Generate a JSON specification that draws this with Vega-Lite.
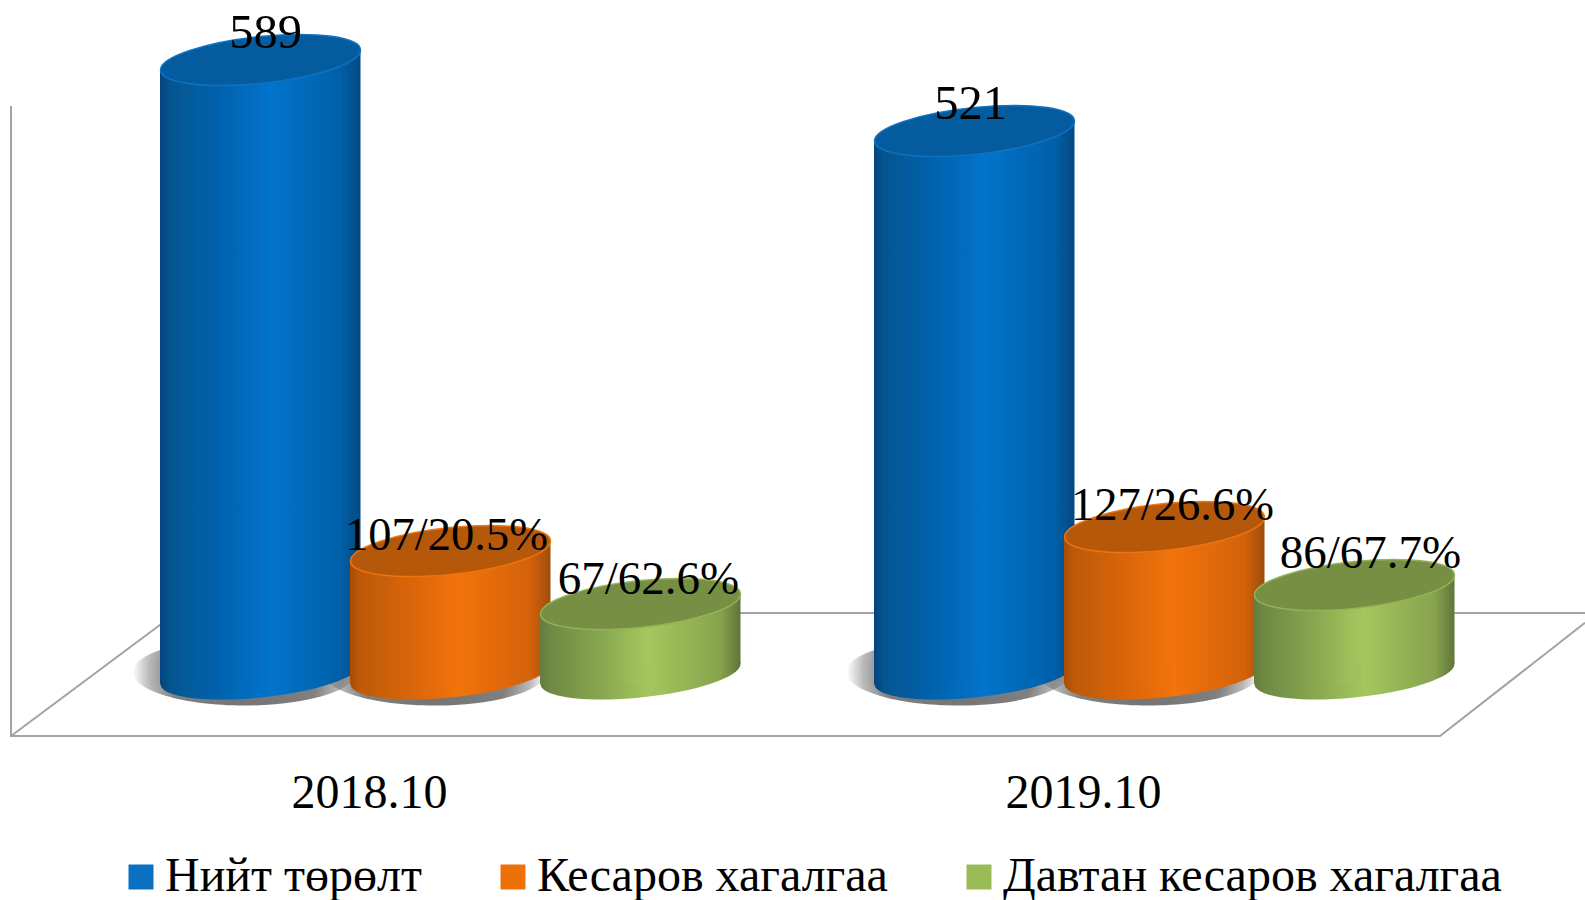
{
"$schema":"https://vega.github.io/schema/vega-lite/v6.json",
"width":1585,"height":900,"padding":0,"autosize":{"type":"none"},"background":"white",
"config":{"view":{"stroke":null},"font":"Liberation Serif"},
"datasets":{
"bars":[
{"year":"2018.10","series":"Нийт төрөлт","value":589,"label":"589"},
{"year":"2018.10","series":"Кесаров хагалгаа","value":107,"label":"107/20.5%"},
{"year":"2018.10","series":"Давтан кесаров хагалгаа","value":67,"label":"67/62.6%"},
{"year":"2019.10","series":"Нийт төрөлт","value":521,"label":"521"},
{"year":"2019.10","series":"Кесаров хагалгаа","value":127,"label":"127/26.6%"},
{"year":"2019.10","series":"Давтан кесаров хагалгаа","value":86,"label":"86/67.7%"}],
"frame":[
{"edge":"wall","across":0.694,"up":11.78,"step":1},
{"edge":"wall","across":0.694,"up":81.78,"step":2},
{"edge":"wall","across":90.85,"up":81.78,"step":3},
{"edge":"wall","across":100,"up":69.2,"step":4},
{"edge":"back","across":0.694,"up":81.78,"step":1},
{"edge":"back","across":11.1,"up":68.1,"step":2},
{"edge":"back","across":100,"up":68.1,"step":3}]
},
"layer":[
{"data":{"name":"frame"},"mark":{"type":"line","color":"#a3a3a3","strokeWidth":2,"clip":false},
"encoding":{"x":{"field":"across","type":"quantitative","scale":{"domain":[0,100],"range":[0,1585]},"axis":null},
"y":{"field":"up","type":"quantitative","scale":{"domain":[0,100],"range":[0,900]},"axis":null},
"detail":{"field":"edge"},"order":{"field":"step"}}},
{"data":{"name":"bars"},
"encoding":{
"x":{"field":"year","type":"nominal","scale":{"domain":["2018.10","2019.10"],"range":[93.5,1521.5],"paddingInner":0,"paddingOuter":0},
"axis":{"orient":"bottom","offset":-107,"title":null,"domain":false,"ticks":false,"grid":false,"labelAngle":0,"labelOffset":-81,"labelFont":"Liberation Serif","labelFontSize":48,"labelColor":"#000000","labelBaseline":"middle","labelPadding":0}},
"y":{"field":"value","type":"quantitative","scale":{"domain":[0,67,86,107,127,521,589],"range":[674,604,585,551,527,131,60]},"axis":null}
},
"layer":[
{"mark":{"type":"point","opacity":0,"size":0,"filled":true},
"encoding":{"fill":{"field":"series","type":"nominal","scale":{"domain":["Нийт төрөлт","Кесаров хагалгаа","Давтан кесаров хагалгаа"],"range":["#0a70c2","#ed7109","#9bbb59"]},
"legend":{"orient":"none","legendX":117,"legendY":853,"direction":"horizontal","columns":3,"title":null,"symbolType":"square","symbolSize":625,"symbolOpacity":1,"symbolStrokeWidth":0,"labelFont":"Liberation Serif","labelFontSize":48,"labelColor":"#000000","labelOffset":0,"columnPadding":67,"gridAlign":"each","labelLimit":800,"symbolOffset":0,"padding":0}}}},
{"transform":[{"filter":"datum.series==='Нийт төрөлт'"}],
"mark":{"type":"point","filled":true,"opacity":1,"size":50000,"xOffset":-206,"yOffset":-2,"shape":"M1,0 C1,.166 .552,.3 0,.3 C-.552,.3 -1,.166 -1,0 C-1,-.166 -.552,-.3 0,-.3 C.552,-.3 1,-.166 1,0 Z",
"fill":{"gradient":"radial","x1":0.5,"y1":0.5,"r1":0,"x2":0.5,"y2":0.5,"r2":0.5,"stops":[{"offset":0,"color":"rgba(50,50,50,0.7)"},{"offset":0.65,"color":"rgba(50,50,50,0.62)"},{"offset":0.85,"color":"rgba(50,50,50,0.35)"},{"offset":1,"color":"rgba(50,50,50,0)"}]}},
"encoding":{"y":{"datum":0}}},
{"transform":[{"filter":"datum.series==='Кесаров хагалгаа'"}],
"mark":{"type":"point","filled":true,"opacity":1,"size":50000,"xOffset":-16,"yOffset":-2,"shape":"M1,0 C1,.166 .552,.3 0,.3 C-.552,.3 -1,.166 -1,0 C-1,-.166 -.552,-.3 0,-.3 C.552,-.3 1,-.166 1,0 Z",
"fill":{"gradient":"radial","x1":0.5,"y1":0.5,"r1":0,"x2":0.5,"y2":0.5,"r2":0.5,"stops":[{"offset":0,"color":"rgba(50,50,50,0.7)"},{"offset":0.65,"color":"rgba(50,50,50,0.62)"},{"offset":0.85,"color":"rgba(50,50,50,0.35)"},{"offset":1,"color":"rgba(50,50,50,0)"}]}},
"encoding":{"y":{"datum":0}}},

{"transform":[{"filter":"datum.series==='Нийт төрөлт'"}],"mark":{"type":"point","filled":true,"opacity":1,"size":40000,"xOffset":-190,"shape":"M1,-0.1 C1,0.0298 .5523,.1798 0,.235 C-.5523,.2902 -1,.2298 -1,.1 C-1,-0.0298 -.5523,-.1798 0,-.235 C.5523,-.2902 1,-.2298 1,-.1 Z",
"fill":{"gradient":"linear","x1":0,"y1":0,"x2":1,"y2":0,"stops":[{"offset":0,"color":"#04437e"},{"offset":0.05,"color":"#05558f"},{"offset":0.3,"color":"#0063ae"},{"offset":0.55,"color":"#0274cc"},{"offset":0.9,"color":"#0060a8"},{"offset":1,"color":"#04487f"}]}},"encoding":{"y":{"datum":0}}},
{"transform":[{"filter":"datum.series==='Нийт төрөлт'"}],"mark":{"type":"bar","width":101,"xOffset":-240,"yOffset":10,"y2Offset":10,
"fill":{"gradient":"linear","x1":0,"y1":0,"x2":1,"y2":0,"stops":[{"offset":0,"color":"#04437e"},{"offset":0.1,"color":"#05558f"},{"offset":0.6,"color":"#0063ae"},{"offset":1,"color":"#0270c6"}]}},"encoding":{"y2":{"datum":0}}},
{"transform":[{"filter":"datum.series==='Нийт төрөлт'"}],"mark":{"type":"bar","width":100,"xOffset":-140,"yOffset":-10,"y2Offset":-10,
"fill":{"gradient":"linear","x1":0,"y1":0,"x2":1,"y2":0,"stops":[{"offset":0,"color":"#0270c6"},{"offset":0.1,"color":"#0274cc"},{"offset":0.8,"color":"#0060a8"},{"offset":1,"color":"#04487f"}]}},"encoding":{"y2":{"datum":0}}},
{"transform":[{"filter":"datum.series==='Нийт төрөлт'"}],"mark":{"type":"point","filled":true,"opacity":1,"size":40000,"xOffset":-190,"fill":"#045c9f","stroke":"#0f72c2","strokeWidth":1.5,"shape":"M1,-0.1 C1,0.0298 .5523,.1798 0,.235 C-.5523,.2902 -1,.2298 -1,.1 C-1,-0.0298 -.5523,-.1798 0,-.235 C.5523,-.2902 1,-.2298 1,-.1 Z"}},

{"transform":[{"filter":"datum.series==='Кесаров хагалгаа'"}],"mark":{"type":"point","filled":true,"opacity":1,"size":40000,"shape":"M1,-0.1 C1,0.0298 .5523,.1798 0,.235 C-.5523,.2902 -1,.2298 -1,.1 C-1,-0.0298 -.5523,-.1798 0,-.235 C.5523,-.2902 1,-.2298 1,-.1 Z",
"fill":{"gradient":"linear","x1":0,"y1":0,"x2":1,"y2":0,"stops":[{"offset":0,"color":"#a64d05"},{"offset":0.05,"color":"#bd5a08"},{"offset":0.3,"color":"#d9650a"},{"offset":0.55,"color":"#f2730b"},{"offset":0.9,"color":"#d4620a"},{"offset":1,"color":"#9d4d0a"}]}},"encoding":{"y":{"datum":0}}},
{"transform":[{"filter":"datum.series==='Кесаров хагалгаа'"}],"mark":{"type":"bar","width":101,"xOffset":-50,"yOffset":10,"y2Offset":10,
"fill":{"gradient":"linear","x1":0,"y1":0,"x2":1,"y2":0,"stops":[{"offset":0,"color":"#a64d05"},{"offset":0.1,"color":"#bd5a08"},{"offset":0.6,"color":"#d9650a"},{"offset":1,"color":"#ef720b"}]}},"encoding":{"y2":{"datum":0}}},
{"transform":[{"filter":"datum.series==='Кесаров хагалгаа'"}],"mark":{"type":"bar","width":100,"xOffset":50,"yOffset":-10,"y2Offset":-10,
"fill":{"gradient":"linear","x1":0,"y1":0,"x2":1,"y2":0,"stops":[{"offset":0,"color":"#ef720b"},{"offset":0.1,"color":"#f2730b"},{"offset":0.8,"color":"#d4620a"},{"offset":1,"color":"#9d4d0a"}]}},"encoding":{"y2":{"datum":0}}},
{"transform":[{"filter":"datum.series==='Кесаров хагалгаа'"}],"mark":{"type":"point","filled":true,"opacity":1,"size":40000,"fill":"#b55809","stroke":"#ee7410","strokeWidth":1.5,"shape":"M1,-0.1 C1,0.0298 .5523,.1798 0,.235 C-.5523,.2902 -1,.2298 -1,.1 C-1,-0.0298 -.5523,-.1798 0,-.235 C.5523,-.2902 1,-.2298 1,-.1 Z"}},

{"transform":[{"filter":"datum.series==='Давтан кесаров хагалгаа'"}],"mark":{"type":"point","filled":true,"opacity":1,"size":40000,"xOffset":190,"shape":"M1,-0.1 C1,0.0298 .5523,.1798 0,.235 C-.5523,.2902 -1,.2298 -1,.1 C-1,-0.0298 -.5523,-.1798 0,-.235 C.5523,-.2902 1,-.2298 1,-.1 Z",
"fill":{"gradient":"linear","x1":0,"y1":0,"x2":1,"y2":0,"stops":[{"offset":0,"color":"#647c3c"},{"offset":0.05,"color":"#6f8944"},{"offset":0.3,"color":"#87a74f"},{"offset":0.55,"color":"#a4c65d"},{"offset":0.9,"color":"#87a34e"},{"offset":1,"color":"#5f7538"}]}},"encoding":{"y":{"datum":0}}},
{"transform":[{"filter":"datum.series==='Давтан кесаров хагалгаа'"}],"mark":{"type":"bar","width":101,"xOffset":140,"yOffset":10,"y2Offset":10,
"fill":{"gradient":"linear","x1":0,"y1":0,"x2":1,"y2":0,"stops":[{"offset":0,"color":"#647c3c"},{"offset":0.1,"color":"#6f8944"},{"offset":0.6,"color":"#87a74f"},{"offset":1,"color":"#a1c35c"}]}},"encoding":{"y2":{"datum":0}}},
{"transform":[{"filter":"datum.series==='Давтан кесаров хагалгаа'"}],"mark":{"type":"bar","width":100,"xOffset":240,"yOffset":-10,"y2Offset":-10,
"fill":{"gradient":"linear","x1":0,"y1":0,"x2":1,"y2":0,"stops":[{"offset":0,"color":"#a1c35c"},{"offset":0.1,"color":"#a4c65d"},{"offset":0.8,"color":"#87a34e"},{"offset":1,"color":"#5f7538"}]}},"encoding":{"y2":{"datum":0}}},
{"transform":[{"filter":"datum.series==='Давтан кесаров хагалгаа'"}],"mark":{"type":"point","filled":true,"opacity":1,"size":40000,"xOffset":190,"fill":"#768f45","stroke":"#93b354","strokeWidth":1.5,"shape":"M1,-0.1 C1,0.0298 .5523,.1798 0,.235 C-.5523,.2902 -1,.2298 -1,.1 C-1,-0.0298 -.5523,-.1798 0,-.235 C.5523,-.2902 1,-.2298 1,-.1 Z"}},

{"transform":[{"filter":"datum.label==='589'"}],"mark":{"type":"text","font":"Liberation Serif","fontSize":48.5,"color":"#000000","xOffset":-190,"dx":5,"dy":-27},"encoding":{"text":{"field":"label"}}},
{"transform":[{"filter":"datum.label==='107/20.5%'"}],"mark":{"type":"text","font":"Liberation Serif","fontSize":46.5,"color":"#000000","dx":-4,"dy":-15},"encoding":{"text":{"field":"label"}}},
{"transform":[{"filter":"datum.label==='67/62.6%'"}],"mark":{"type":"text","font":"Liberation Serif","fontSize":47,"color":"#000000","xOffset":190,"dx":8,"dy":-24},"encoding":{"text":{"field":"label"}}},
{"transform":[{"filter":"datum.label==='521'"}],"mark":{"type":"text","font":"Liberation Serif","fontSize":48.5,"color":"#000000","xOffset":-190,"dx":-4,"dy":-27},"encoding":{"text":{"field":"label"}}},
{"transform":[{"filter":"datum.label==='127/26.6%'"}],"mark":{"type":"text","font":"Liberation Serif","fontSize":46.5,"color":"#000000","dx":8,"dy":-21},"encoding":{"text":{"field":"label"}}},
{"transform":[{"filter":"datum.label==='86/67.7%'"}],"mark":{"type":"text","font":"Liberation Serif","fontSize":47,"color":"#000000","xOffset":190,"dx":16,"dy":-31},"encoding":{"text":{"field":"label"}}}
]}
],
"resolve":{"scale":{"x":"independent","y":"independent"}}
}
